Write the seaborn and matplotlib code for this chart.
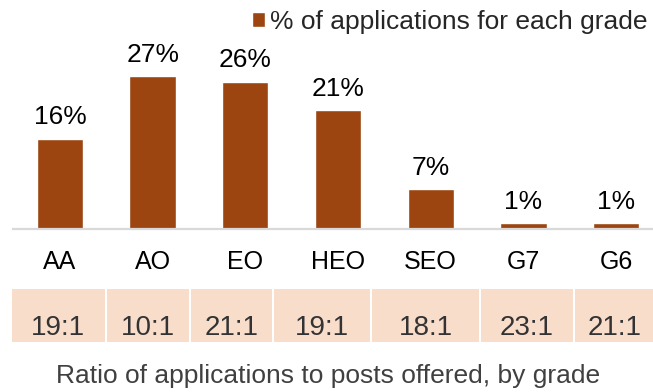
import matplotlib
matplotlib.use("Agg")
import matplotlib.pyplot as plt
from matplotlib.patches import Rectangle
import seaborn as sns
import pandas as pd

# Data
grades = ["AA", "AO", "EO", "HEO", "SEO", "G7", "G6"]
share_pct = [16, 27, 26, 21, 7, 1, 1]
ratios = ["19:1", "10:1", "21:1", "19:1", "18:1", "23:1", "21:1"]
series_name = "% of applications for each grade"
footer = "Ratio of applications to posts offered, by grade"

BAR = "#9C4511"
BOX = "#F9DDCB"
W, H = 653, 392

sns.set_theme(style="white")
plt.rcParams["font.family"] = ["Liberation Sans", "DejaVu Sans"]

fig = plt.figure(figsize=(W / 100, H / 100), dpi=100)

# Bar panel: baseline sits 229 px from the top of the figure
base_px = 229
ax = fig.add_axes([13 / W, (H - base_px) / H, (W - 13) / W, base_px / H])
df = pd.DataFrame({"grade": grades, "share": share_pct})
sns.barplot(data=df, x="grade", y="share", color=BAR, width=0.5,
            saturation=1, ax=ax, label=series_name)
px_per_unit = 92.67
ax.set_xlim((13 - 60) / px_per_unit, 6 + (W - 616) / px_per_unit)
ax.set_ylim(0, base_px / 5.65)
ax.bar_label(ax.containers[0], labels=[f"{v}%" for v in share_pct],
             padding=7, fontsize=19, color="#000000")
ax.set_xlabel("")
ax.set_ylabel("")
ax.set_yticks([])
ax.tick_params(axis="x", length=0, pad=15, labelsize=18, labelcolor="#000000")
for side in ["top", "right", "left"]:
    ax.spines[side].set_visible(False)
ax.spines["bottom"].set_color("#D9D9D9")
ax.spines["bottom"].set_linewidth(1.6)

leg = ax.legend(loc="upper right", bbox_to_anchor=(1.0, 0.988),
                bbox_transform=fig.transFigure, frameon=False,
                fontsize=19, handlelength=0.5, handleheight=0.5,
                handletextpad=0.2, borderpad=0.15, borderaxespad=0.05)

# Ratio strip drawn in pixel coordinates
ov = fig.add_axes([0, 0, 1, 1])
ov.set_xlim(0, W)
ov.set_ylim(H, 0)
ov.axis("off")
edges = [11, 105.5, 189.5, 273, 371, 480, 574, 655]
for i, r in enumerate(ratios):
    x0, x1 = edges[i] + 1, edges[i + 1] - 1
    ov.add_patch(Rectangle((x0, 289), x1 - x0, 53, facecolor=BOX,
                           edgecolor="none"))
    ov.text((x0 + x1) / 2, 328, r, ha="center", va="center",
            fontsize=20, color="#333333")
ov.text(328, 376, footer, ha="center", va="center", fontsize=19,
        color="#404040")

fig.savefig("out.png", dpi=100)
